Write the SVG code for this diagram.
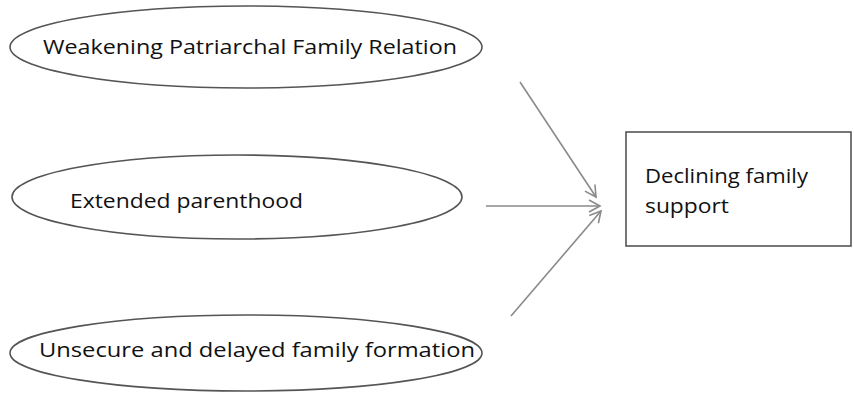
<svg xmlns="http://www.w3.org/2000/svg" width="854" height="395" viewBox="0 0 854 395">
<style>
.node{fill:#fff;stroke:#555;stroke-width:1.6}
.lbl{font-family:"Open Sans","Noto Sans","Liberation Sans",sans-serif;font-size:20px;fill:#111}
.edge{stroke:#8a8a8a;stroke-width:1.6;fill:none;marker-end:url(#ah)}
</style>
<defs>
<marker id="ah" markerWidth="14" markerHeight="14" refX="12" refY="7" orient="auto" markerUnits="userSpaceOnUse">
<path d="M1,1 L12,7 L1,13" fill="none" stroke="#8a8a8a" stroke-width="1.6"/>
</marker>
</defs>
<rect width="854" height="395" fill="#fff"/>
<g id="n1">
<ellipse class="node" cx="246" cy="47" rx="236" ry="41"/>
<text class="lbl" x="43" y="54" textLength="414" lengthAdjust="spacingAndGlyphs">Weakening Patriarchal Family Relation</text>
</g>
<g id="n2">
<ellipse class="node" cx="237" cy="197" rx="225" ry="42"/>
<text class="lbl" x="70" y="208" textLength="233" lengthAdjust="spacingAndGlyphs">Extended parenthood</text>
</g>
<g id="n3">
<ellipse class="node" cx="246" cy="353" rx="236" ry="38"/>
<text class="lbl" x="39" y="357" textLength="436" lengthAdjust="spacingAndGlyphs">Unsecure and delayed family formation</text>
</g>
<g id="n4">
<rect class="node" x="626" y="132" width="225" height="114"/>
<text class="lbl" x="645" y="183" textLength="163" lengthAdjust="spacingAndGlyphs">Declining family</text>
<text class="lbl" x="645" y="213" textLength="84" lengthAdjust="spacingAndGlyphs">support</text>
</g>
<g id="edges">
<line class="edge" x1="520" y1="82" x2="596" y2="197"/>
<line class="edge" x1="486" y1="206" x2="600" y2="206"/>
<line class="edge" x1="511" y1="316" x2="601" y2="211"/>
</g>
</svg>
